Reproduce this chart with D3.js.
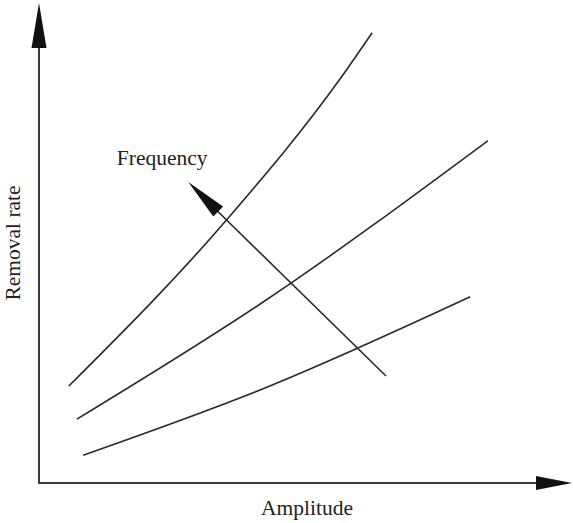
<!DOCTYPE html>
<html>
<head>
<meta charset="utf-8">
<script src="https://cdn.jsdelivr.net/npm/d3@7"></script>
<style>
  body { margin: 0; background: #fff; }
  svg { display: block; }
</style>
</head>
<body>
<div id="chart"></div>
<script>
// schematic values (arbitrary units, 0..100 on both axes)
const curveHigh = [[5.6, 20.2], [35.5, 55.2], [56.5, 84.2], [62.5, 93.8]]
const curveMid = [[7.1, 13.3], [41.5, 37.3], [84.2, 71.3]]
const curveLow = [[8.3, 5.8], [42.4, 19.8], [80.9, 38.8]]
const freqArrow = [[65.1, 22.3], [28.0, 62.7]]  // from -> to (tip)
const freqLabel = { text: "Frequency", x: 14.6, y: 66.3 }
const xLabel = "Amplitude"
const yLabel = "Removal rate"

const width = 573, height = 523
const ink = "#2a2a2a"
const font = "Liberation Serif, serif"

const svg = d3.select("#chart").append("svg")
  .attr("width", width)
  .attr("height", height)

const x = d3.scaleLinear().domain([0, 100]).range([39, 572])
const y = d3.scaleLinear().domain([0, 100]).range([483, 3])

// arrowhead triangle with its tip at (x2,y2), pointing along (x1,y1)->(x2,y2)
function arrowHead(x1, y1, x2, y2, len, w) {
  const dx = x2 - x1, dy = y2 - y1
  const d = Math.hypot(dx, dy)
  const ux = dx / d, uy = dy / d
  const bx = x2 - ux * len, by = y2 - uy * len
  const path = d3.path()
  path.moveTo(x2, y2)
  path.lineTo(bx - uy * w / 2, by + ux * w / 2)
  path.lineTo(bx + uy * w / 2, by - ux * w / 2)
  path.closePath()
  return path.toString()
}

// axes
const axes = svg.append("g")
axes.append("line")
  .attr("x1", x(0)).attr("y1", y(0))
  .attr("x2", x(0)).attr("y2", y(100) + 20)
  .attr("stroke", "#3a3a3a").attr("stroke-width", 2)
axes.append("line")
  .attr("x1", x(0) - 1).attr("y1", y(0))
  .attr("x2", x(100) - 20).attr("y2", y(0))
  .attr("stroke", "#3a3a3a").attr("stroke-width", 2)
axes.append("path")
  .attr("d", arrowHead(x(0), y(0), x(0), y(100), 45, 15))
  .attr("fill", "#111")
axes.append("path")
  .attr("d", arrowHead(x(0), y(0), x(100), y(0), 36, 14))
  .attr("fill", "#111")

// curves
const line = d3.line()
  .x(d => x(d[0]))
  .y(d => y(d[1]))
  .curve(d3.curveMonotoneX)

svg.append("g")
  .selectAll("path")
  .data([curveHigh, curveMid, curveLow])
  .join("path")
  .attr("d", line)
  .attr("fill", "none")
  .attr("stroke", ink)
  .attr("stroke-width", 1.6)

// frequency arrow
const [f0, f1] = freqArrow
svg.append("line")
  .attr("x1", x(f0[0])).attr("y1", y(f0[1]))
  .attr("x2", x(f1[0]) + 20).attr("y2", y(f1[1]) + 20)
  .attr("stroke", ink).attr("stroke-width", 1.6)
svg.append("path")
  .attr("d", arrowHead(x(f0[0]), y(f0[1]), x(f1[0]), y(f1[1]), 42, 14))
  .attr("fill", "#111")

svg.append("text")
  .attr("x", x(freqLabel.x))
  .attr("y", y(freqLabel.y))
  .attr("font-family", font)
  .attr("font-size", 21.5)
  .attr("fill", "#222")
  .text(freqLabel.text)

// axis titles
svg.append("text")
  .attr("x", 307)
  .attr("y", 515)
  .attr("text-anchor", "middle")
  .attr("font-family", font)
  .attr("font-size", 21.5)
  .attr("fill", "#222")
  .text(xLabel)

svg.append("text")
  .attr("transform", `translate(20, ${y(50)}) rotate(-90)`)
  .attr("text-anchor", "middle")
  .attr("font-family", font)
  .attr("font-size", 21.5)
  .attr("fill", "#222")
  .text(yLabel)
</script>
</body>
</html>
